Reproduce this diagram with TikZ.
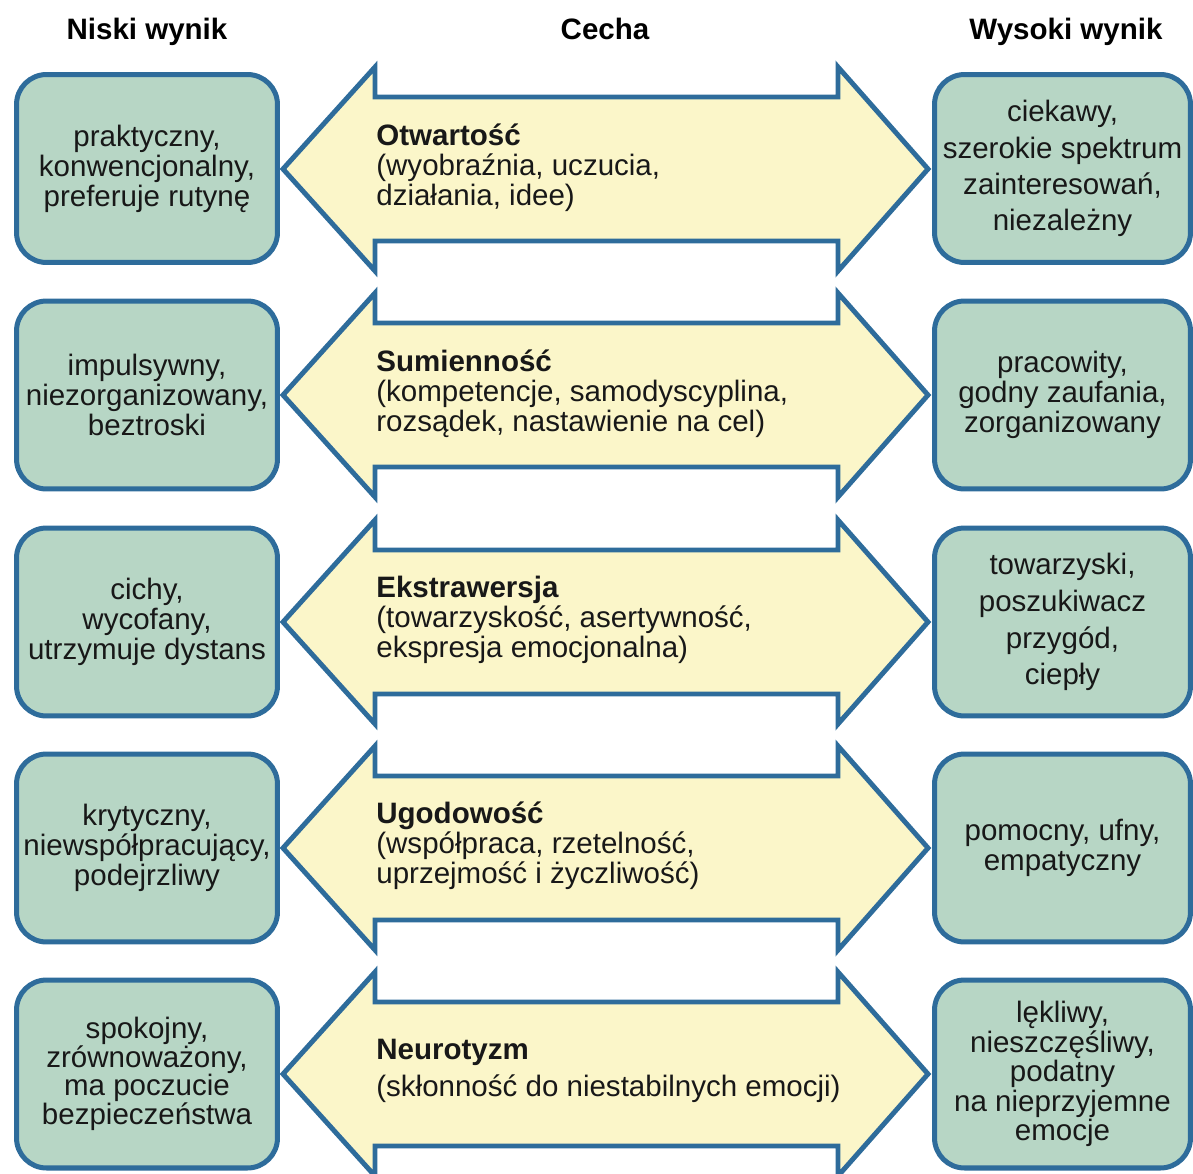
\documentclass[tikz,border=0pt]{standalone}
\usepackage{fontspec}
\setmainfont{Liberation Sans}
\definecolor{boxgreen}{RGB}{183,214,197}
\definecolor{edgeblue}{RGB}{46,108,155}
\definecolor{arrowyellow}{RGB}{251,246,201}
\definecolor{inkgray}{RGB}{24,24,24}
\begin{document}
\begin{tikzpicture}[x=0.02cm,y=-0.02cm,
  scorebox/.style={draw=edgeblue,fill=boxgreen,line width=2.85pt,rounded corners=0.6cm,
    minimum height=3.76cm,align=center,text=inkgray,font=\fontsize{16.8}{17.1}\selectfont},
  lowbox/.style={scorebox,minimum width=5.22cm},
  highbox/.style={scorebox,minimum width=5.12cm},
  traitarrow/.style={draw=edgeblue,fill=arrowyellow,line width=2.8pt,line join=miter},
  traittext/.style={anchor=west,align=left,text=inkgray,font=\fontsize{16.8}{17.1}\selectfont},
  header/.style={anchor=base,font=\fontsize{16.8}{17.1}\selectfont\bfseries}]
\tikzstyle{every node}+=[inner sep=0pt]
\useasboundingbox (0,0) rectangle (1193,1173);
\node[header] (hlow) at (147,39) {Niski wynik};
\node[header] (htrait) at (605,39) {Cecha};
\node[header] (hhigh) at (1066,39) {Wysoki wynik};
\draw [traitarrow] (283,169) -- (375,67) -- (375,97) -- (838,97) -- (838,67) -- (928,169) -- (838,271) -- (838,241) -- (375,241) -- (375,271) -- cycle;
\draw [traitarrow] (283,395) -- (375,293) -- (375,323) -- (838,323) -- (838,293) -- (928,395) -- (838,497) -- (838,467) -- (375,467) -- (375,497) -- cycle;
\draw [traitarrow] (283,622) -- (375,520) -- (375,550) -- (838,550) -- (838,520) -- (928,622) -- (838,724) -- (838,694) -- (375,694) -- (375,724) -- cycle;
\draw [traitarrow] (283,848) -- (375,746) -- (375,776) -- (838,776) -- (838,746) -- (928,848) -- (838,950) -- (838,920) -- (375,920) -- (375,950) -- cycle;
\draw [traitarrow] (283,1074) -- (375,972) -- (375,1002) -- (838,1002) -- (838,972) -- (928,1074) -- (838,1176) -- (838,1146) -- (375,1146) -- (375,1176) -- cycle;
\node[lowbox] (low1) at (147,168.5) {praktyczny,\\konwencjonalny,\\preferuje rutynę};
\node[lowbox] (low2) at (147,395) {impulsywny,\\niezorganizowany,\\beztroski};
\node[lowbox] (low3) at (147,622) {cichy,\\wycofany,\\utrzymuje dystans};
\node[lowbox,font=\fontsize{16.8}{16.2}\selectfont] (low5) at (147,1074) {spokojny,\\zrównoważony,\\ma poczucie\\bezpieczeństwa};
\node[lowbox] (low4) at (147,848) {krytyczny,\\niewspółpracujący,\\podejrzliwy};
\node[highbox] (high1) at (1062.5,168.5) [font=\fontsize{16.8}{20.6}\selectfont] {ciekawy,\\szerokie spektrum\\zainteresowań,\\niezależny};
\node[highbox] (high2) at (1062.5,395) {pracowity,\\godny zaufania,\\zorganizowany};
\node[highbox] (high3) at (1062.5,622) [font=\fontsize{16.8}{21}\selectfont] {towarzyski,\\poszukiwacz\\przygód,\\ciepły};
\node[highbox] (high4) at (1062.5,848) {pomocny, ufny,\\empatyczny};
\node[highbox] (high5) at (1062.5,1074) [font=\fontsize{16.8}{15.6}\selectfont] {lękliwy,\\nieszczęśliwy,\\podatny\\na nieprzyjemne\\emocje};
\node[traittext] (trait1) at (376,168) {\textbf{Otwartość}\\(wyobraźnia, uczucia,\\działania, idee)};
\node[traittext] (trait2) at (376,394) {\textbf{Sumienność}\\(kompetencje, samodyscyplina,\\rozsądek, nastawienie na cel)};
\node[traittext] (trait3) at (376,620) {\textbf{Ekstrawersja}\\(towarzyskość, asertywność,\\ekspresja emocjonalna)};
\node[traittext] (trait4) at (376,846) {\textbf{Ugodowość}\\(współpraca, rzetelność,\\uprzejmość i życzliwość)};
\node[traittext] (trait5) at (376,1071) {\textbf{Neurotyzm}\\[0.14cm](skłonność do niestabilnych emocji)};
\end{tikzpicture}
\end{document}
